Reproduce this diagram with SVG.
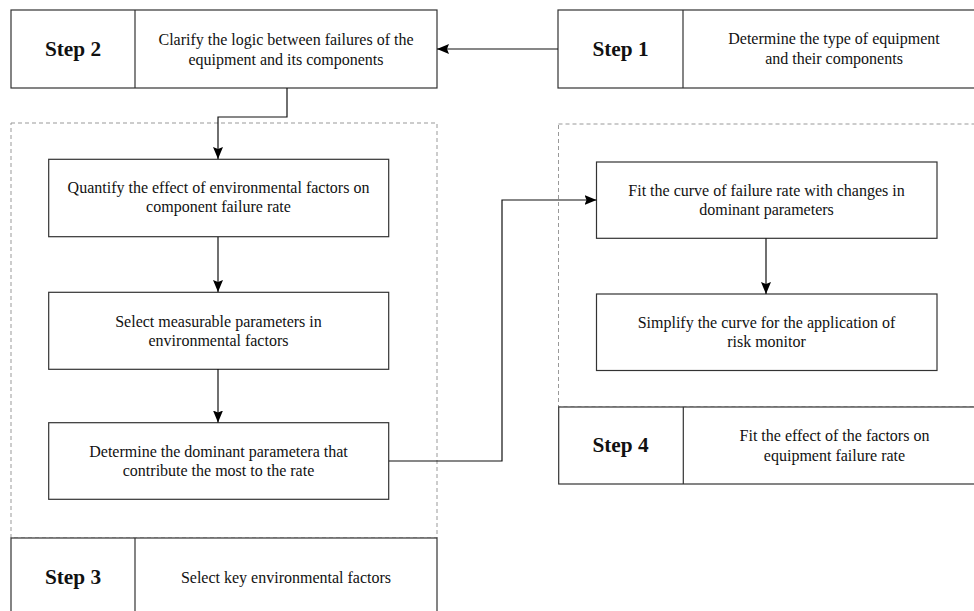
<svg xmlns="http://www.w3.org/2000/svg" width="974" height="611" viewBox="0 0 974 611">
<style>
.box{fill:#fff;stroke:#333;stroke-width:1.2}
.dash{fill:none;stroke:#999;stroke-width:1;stroke-dasharray:4 3}
.t{font-family:"Liberation Serif","Times New Roman",serif;font-size:16px;fill:#111;text-anchor:middle}
.s{font-family:"Liberation Serif","Times New Roman",serif;font-size:21.3px;font-weight:bold;fill:#111;text-anchor:middle}
.c{fill:none;stroke:#111;stroke-width:1.2}
</style>
<defs>
<marker id="ah" markerUnits="userSpaceOnUse" markerWidth="12" markerHeight="10" refX="12" refY="5" orient="auto">
<path d="M0,0 L12,5 L0,10 L2,5 z" fill="#000"/>
</marker>
</defs>
<rect class="dash" x="11" y="123" width="426" height="415"/>
<rect class="dash" x="558.5" y="124" width="430" height="283"/>
<g id="step2">
<rect class="box" x="11" y="10" width="426" height="78"/>
<line x1="135" y1="10" x2="135" y2="88" stroke="#333" stroke-width="1.2"/>
<text class="s" x="73" y="56">Step 2</text>
<text class="t" x="286" y="45">Clarify the logic between failures of the</text>
<text class="t" x="286" y="65">equipment and its components</text>
</g>
<g id="step1">
<rect class="box" x="558" y="10" width="430" height="78"/>
<line x1="683" y1="10" x2="683" y2="88" stroke="#333" stroke-width="1.2"/>
<text class="s" x="620.5" y="56">Step 1</text>
<text class="t" x="834" y="44">Determine the type of equipment</text>
<text class="t" x="834" y="64">and their components</text>
</g>
<g id="quantify">
<rect class="box" x="48.7" y="159.3" width="340" height="77.4"/>
<text class="t" x="218.5" y="193">Quantify the effect of environmental factors on</text>
<text class="t" x="218.5" y="212">component failure rate</text>
</g>
<g id="select">
<rect class="box" x="48.7" y="292.3" width="340" height="77"/>
<text class="t" x="218.5" y="327">Select measurable parameters in</text>
<text class="t" x="218.5" y="346">environmental factors</text>
</g>
<g id="dominant">
<rect class="box" x="48.7" y="422.7" width="340" height="76.6"/>
<text class="t" x="218.5" y="457">Determine the dominant parametera that</text>
<text class="t" x="218.5" y="476">contribute the most to the rate</text>
</g>
<g id="step3">
<rect class="box" x="11" y="538" width="426" height="100"/>
<line x1="135" y1="538" x2="135" y2="638" stroke="#333" stroke-width="1.2"/>
<text class="s" x="73" y="584">Step 3</text>
<text class="t" x="286" y="583">Select key environmental factors</text>
</g>
<g id="fit">
<rect class="box" x="596.5" y="162" width="340.5" height="76.3"/>
<text class="t" x="766.5" y="196">Fit the curve of failure rate with changes in</text>
<text class="t" x="766.5" y="215">dominant parameters</text>
</g>
<g id="simplify">
<rect class="box" x="596.5" y="294" width="340.5" height="76.5"/>
<text class="t" x="766.5" y="328">Simplify the curve for the application of</text>
<text class="t" x="766.5" y="347">risk monitor</text>
</g>
<g id="step4">
<rect class="box" x="558.7" y="407" width="430" height="77"/>
<line x1="683.3" y1="407" x2="683.3" y2="484" stroke="#333" stroke-width="1.2"/>
<text class="s" x="620.5" y="452">Step 4</text>
<text class="t" x="834.5" y="441">Fit the effect of the factors on</text>
<text class="t" x="834.5" y="461">equipment failure rate</text>
</g>
<g id="connectors">
<path class="c" d="M558,49 H437" marker-end="url(#ah)"/>
<path class="c" d="M287,88 V117 H218 V159" marker-end="url(#ah)"/>
<path class="c" d="M218,237 V292" marker-end="url(#ah)"/>
<path class="c" d="M218,369 V422.5" marker-end="url(#ah)"/>
<path class="c" d="M389,461 H502 V200 H596.5" marker-end="url(#ah)"/>
<path class="c" d="M766,238.3 V294" marker-end="url(#ah)"/>
</g>
</svg>
